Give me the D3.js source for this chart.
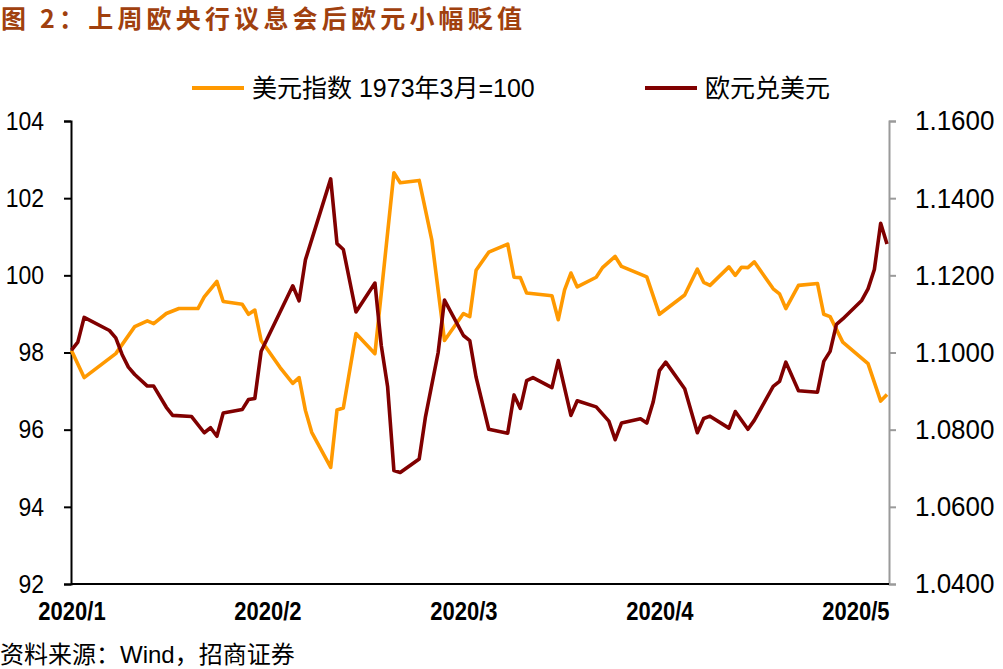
<!DOCTYPE html>
<html>
<head>
<meta charset="utf-8">
<script src="https://cdn.jsdelivr.net/npm/d3@7"></script>
<style>
  body { margin: 0; background: #fff; }
  svg { display: block; }
</style>
</head>
<body>
<script>
// days counted from 2020-01-01
var usdDay = [0,2,7,10,12,13,15,17,20,21,23,24,27,28,29,30,33,35,36,37,38,41,42,43,45,48,51,52,55,57,59,62,63,64,66,69,70,71,72,76,77,78,79,80,83,84,86,87,91,93,97,99,100,101,104,105,106,107,108,111,112,113,115,118,119,120,121,122,126,128,129];
var usdVal = [98.05,97.35,97.97,98.67,98.82,98.75,99.01,99.14,99.14,99.44,99.84,99.32,99.25,98.99,99.10,98.31,97.61,97.20,97.35,96.50,95.93,95.02,96.51,96.56,98.49,97.97,102.66,102.40,102.46,100.91,98.31,99.01,98.93,100.13,100.60,100.81,99.95,99.94,99.54,99.47,98.85,99.62,100.06,99.70,99.95,100.20,100.49,100.23,99.96,98.99,99.49,100.16,99.82,99.74,100.22,100.00,100.21,100.20,100.35,99.65,99.52,99.14,99.74,99.79,98.99,98.93,98.60,98.27,97.71,96.74,96.91];

var eurDay = [0,1,2,6,7,8,9,10,12,13,15,16,19,21,22,23,24,27,28,29,30,35,36,37,41,42,43,45,48,49,50,51,52,55,56,58,59,62,63,64,66,69,70,71,72,73,76,77,79,80,83,85,86,87,90,91,92,93,94,97,99,100,101,104,105,107,108,111,112,113,115,118,119,120,121,122,125,126,127,128,129];
var eurVal = [1.1006,1.1027,1.1091,1.1057,1.1038,1.0995,1.0962,1.0943,1.0913,1.0913,1.0858,1.0837,1.0834,1.0792,1.0805,1.0783,1.0843,1.0852,1.0878,1.0881,1.1003,1.1173,1.1134,1.1240,1.1450,1.1282,1.1267,1.1105,1.1180,1.1018,1.0912,1.0694,1.0689,1.0724,1.0834,1.1000,1.1136,1.1044,1.1031,1.0936,1.0801,1.0791,1.0890,1.0855,1.0927,1.0935,1.0909,1.0979,1.0837,1.0875,1.0859,1.0822,1.0774,1.0817,1.0828,1.0817,1.0871,1.0953,1.0975,1.0906,1.0792,1.0829,1.0835,1.0804,1.0847,1.0801,1.0824,1.0912,1.0925,1.0975,1.0901,1.0897,1.0977,1.1003,1.1073,1.1087,1.1135,1.1165,1.1215,1.1335,1.1281];

// x tick labels sit every 31 days
var xTickDay = [0,31,62,93,124];
var xTickLabel = ["2020/1","2020/2","2020/3","2020/4","2020/5"];
var leftTicks = [92,94,96,98,100,102,104];
var rightTicks = [1.04,1.06,1.08,1.10,1.12,1.14,1.16];

var seriesNames = ["美元指数 1973年3月=100", "欧元兑美元"];
var colors = ["#FF9900", "#800000"];

var W = 1003, H = 669;
var plot = {left: 71, right: 889, top: 121, bottom: 584};

var svg = d3.select("body").append("svg")
    .attr("width", W)
    .attr("height", H);

var numFont = "'Liberation Sans', Arial, sans-serif";
var cjkFont = "'Liberation Sans', 'Noto Sans CJK SC', sans-serif";

// title, stretched to the reference width
svg.append("text")
   .attr("x", 1)
   .attr("y", 28)
   .attr("textLength", 521)
   .attr("lengthAdjust", "spacing")
   .style("font-family", "'Noto Sans CJK SC', sans-serif")
   .style("font-weight", "bold")
   .style("font-size", "25px")
   .style("fill", "#A0400E")
   .text("图 2：上周欧央行议息会后欧元小幅贬值");

var x = d3.scaleLinear().domain([0, 129]).range([plot.left + 0.5, plot.right - 2]);
var yL = d3.scaleLinear().domain([92, 104]).range([plot.bottom, plot.top]);
var yR = d3.scaleLinear().domain([1.04, 1.16]).range([plot.bottom, plot.top]);

// the reference's tick labels are a bit taller than Arial
function stretch(sel, k) {
  sel.attr("transform", "scale(1," + k + ")");
}

// left axis
var leftAxis = svg.append("g")
    .attr("transform", "translate(" + plot.left + ",0)")
    .call(d3.axisLeft(yL).tickValues(leftTicks).tickSize(7).tickPadding(20).tickFormat(d3.format("d")));
leftAxis.select(".domain").attr("stroke", "#000").attr("stroke-width", 2);
leftAxis.selectAll(".tick line").attr("stroke", "#000").attr("stroke-width", 2);
leftAxis.selectAll("text")
    .style("font-family", numFont)
    .style("font-size", "23px")
    .style("fill", "#000")
    .call(stretch, 1.12);

// right axis
var rightAxis = svg.append("g")
    .attr("transform", "translate(" + plot.right + ",0)")
    .call(d3.axisRight(yR).tickValues(rightTicks).tickSize(7).tickPadding(19).tickFormat(d3.format(".4f")));
rightAxis.select(".domain").attr("stroke", "#9a9a9a").attr("stroke-width", 2);
rightAxis.selectAll(".tick line").attr("stroke", "#9a9a9a").attr("stroke-width", 2);
rightAxis.selectAll("text")
    .style("font-family", numFont)
    .style("font-size", "26px")
    .style("fill", "#000")
    .call(stretch, 1.08);

// bottom axis (labels only, no tick marks)
var bottomAxis = svg.append("g")
    .attr("transform", "translate(0," + plot.bottom + ")")
    .call(d3.axisBottom(x).tickValues(xTickDay).tickSize(0).tickPadding(14)
        .tickFormat(function(d, i) { return xTickLabel[i]; }));
bottomAxis.select(".domain").remove();
bottomAxis.selectAll("text")
    .style("font-family", numFont)
    .style("font-weight", "bold")
    .style("font-size", "22px")
    .style("fill", "#000")
    .call(stretch, 1.2);

svg.append("line")
   .attr("x1", plot.left).attr("x2", plot.right)
   .attr("y1", plot.bottom).attr("y2", plot.bottom)
   .attr("stroke", "#000").attr("stroke-width", 2);

// lines
var usdLine = d3.line()
    .x(function(d, i) { return x(usdDay[i]); })
    .y(function(d) { return yL(d); });
var eurLine = d3.line()
    .x(function(d, i) { return x(eurDay[i]); })
    .y(function(d) { return yR(d); });

svg.append("path")
   .attr("d", usdLine(usdVal))
   .attr("fill", "none")
   .attr("stroke", colors[0])
   .attr("stroke-width", 3.6)
   .attr("stroke-linejoin", "round");

svg.append("path")
   .attr("d", eurLine(eurVal))
   .attr("fill", "none")
   .attr("stroke", colors[1])
   .attr("stroke-width", 3.6)
   .attr("stroke-linejoin", "round");

// legend
var legendX = [192, 645];
var legend = svg.selectAll(".legend")
    .data(seriesNames)
    .enter()
    .append("g")
    .attr("class", "legend")
    .attr("transform", function(d, i) { return "translate(" + legendX[i] + ",88)"; });
legend.append("line")
    .attr("x1", 0).attr("x2", 52)
    .attr("stroke", function(d, i) { return colors[i]; })
    .attr("stroke-width", 4);
legend.append("text")
    .attr("x", 60)
    .attr("dy", "0.36em")
    .style("font-family", cjkFont)
    .style("font-size", "25px")
    .style("fill", "#000")
    .text(function(d) { return d; });

// source
svg.append("text")
   .attr("x", 0)
   .attr("y", 663)
   .style("font-family", cjkFont)
   .style("font-size", "24px")
   .style("fill", "#000")
   .text("资料来源：Wind，招商证券");
</script>
</body>
</html>
